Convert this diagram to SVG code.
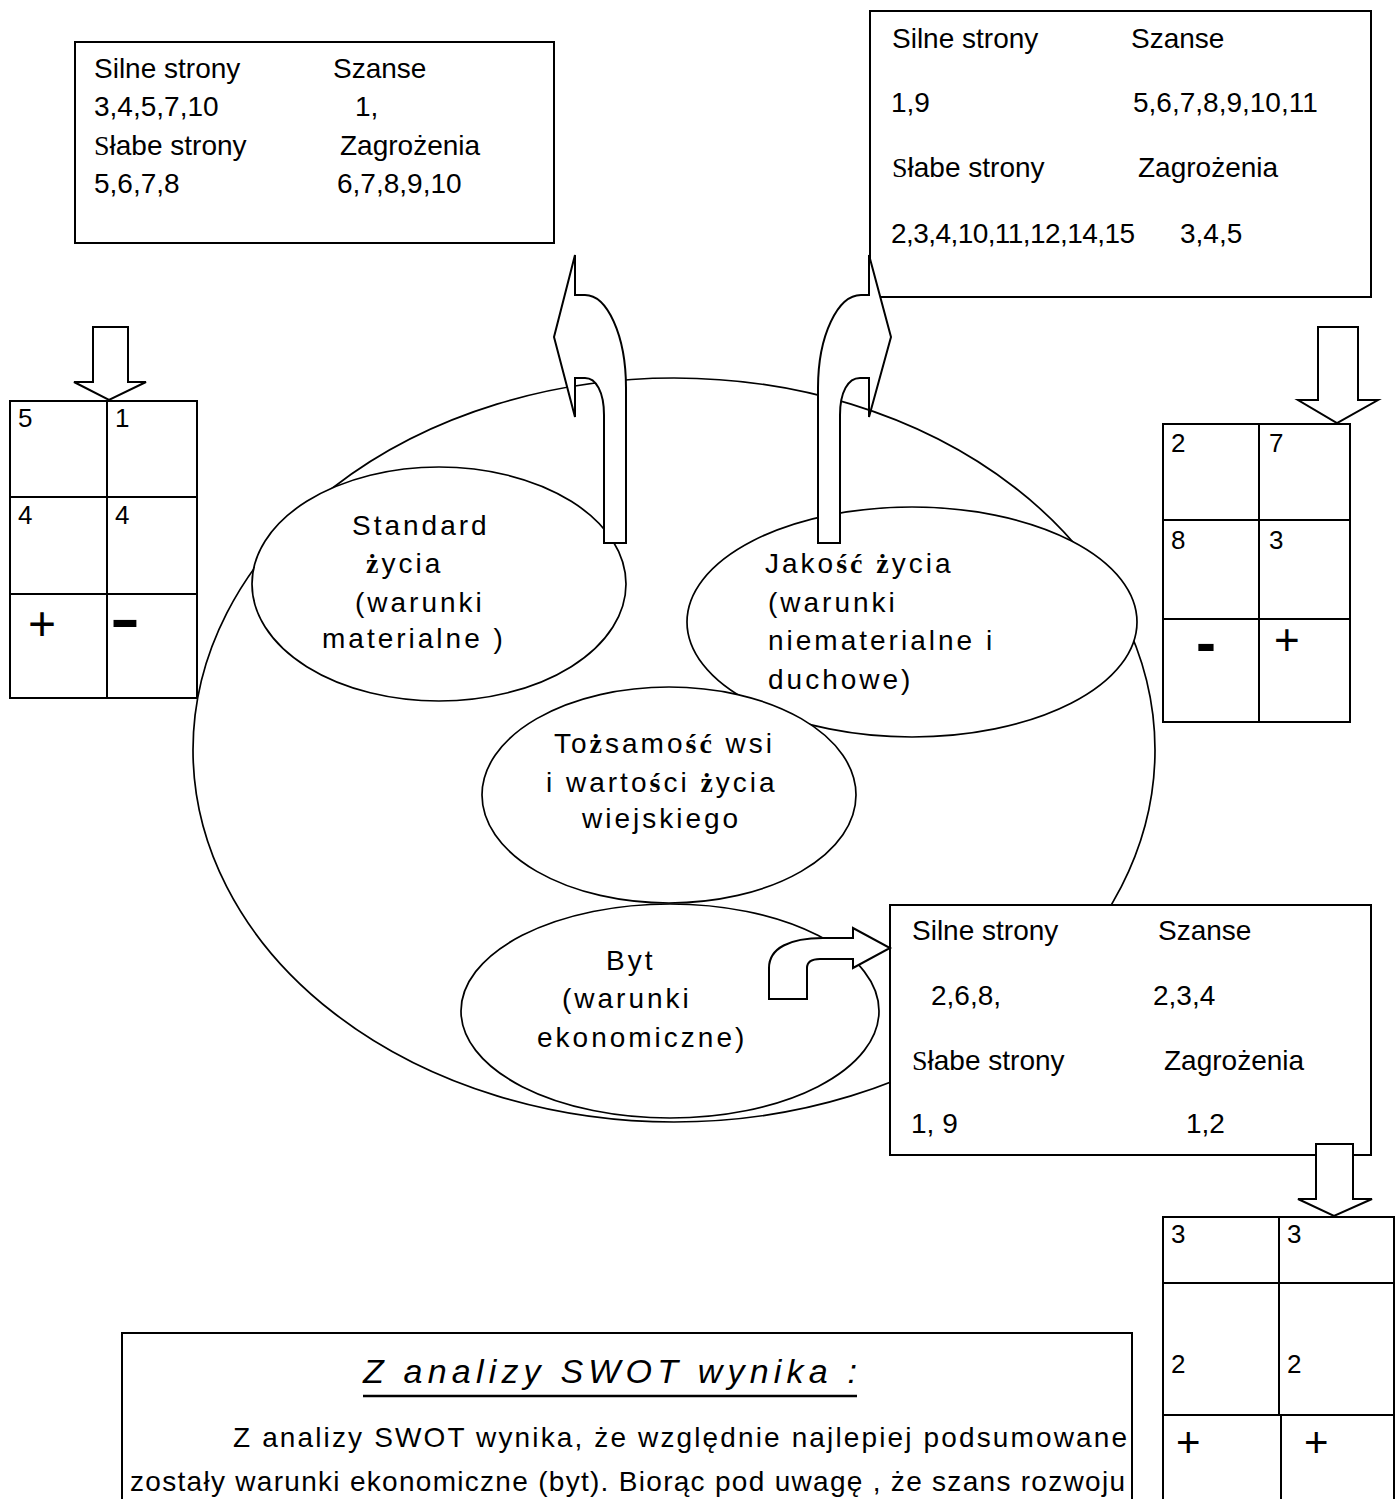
<svg xmlns="http://www.w3.org/2000/svg" width="1397" height="1499" viewBox="0 0 1397 1499">
<style>
text{font-family:"Liberation Sans",Arial,sans-serif;font-size:28px;fill:#000}
.box{fill:#fff;stroke:#000;stroke-width:2}
.ell{fill:#fff;stroke:#000;stroke-width:1.7}
.arr{fill:#fff;stroke:#000;stroke-width:2;stroke-linejoin:miter}
.grid{fill:#fff;stroke:#000;stroke-width:2}
.ln{stroke:#000;stroke-width:2}
.et{letter-spacing:3px}
.b{font-family:"Liberation Serif",serif;font-weight:bold}
.s{font-family:"Liberation Serif",serif}
.num{font-size:26px}
.mi{font-weight:bold;font-size:60px}
.p50{font-size:48px}
.p46{font-size:44px}
.p44{font-size:42px}
.title{font-size:34px;font-style:italic}
</style>
<rect width="1397" height="1499" fill="#fff"/>

<g id="outer-ellipse">
<ellipse class="ell" cx="674" cy="750" rx="481" ry="372"/>
</g>

<g id="node-standard">
<ellipse class="ell" cx="439" cy="584" rx="187" ry="117"/>
<text class="et" x="352" y="535">Standard</text>
<text class="et" x="366" y="573"><tspan class="b">ż</tspan>ycia</text>
<text class="et" x="355" y="612">(warunki</text>
<text class="et" x="322" y="648">materialne )</text>
</g>

<g id="node-jakosc">
<ellipse class="ell" cx="912" cy="622" rx="225" ry="115"/>
<text class="et" x="765" y="573">Jako<tspan class="b">ść</tspan> <tspan class="b">ż</tspan>ycia</text>
<text class="et" x="768" y="612">(warunki</text>
<text class="et" x="768" y="650">niematerialne i</text>
<text class="et" x="768" y="689">duchowe)</text>
</g>

<g id="node-tozsamosc">
<ellipse class="ell" cx="669" cy="795" rx="187" ry="108"/>
<text class="et" x="554" y="753">To<tspan class="b">ż</tspan>samo<tspan class="b">ść</tspan> wsi</text>
<text class="et" x="546" y="792">i warto<tspan class="b">ś</tspan>ci <tspan class="b">ż</tspan>ycia</text>
<text class="et" x="582" y="828">wiejskiego</text>
</g>

<g id="node-byt">
<ellipse class="ell" cx="670" cy="1011" rx="209" ry="107"/>
<text class="et" x="606" y="970">Byt</text>
<text class="et" x="562" y="1008">(warunki</text>
<text class="et" x="537" y="1047">ekonomiczne)</text>
</g>

<g id="swot-standard">
<rect class="box" x="75" y="42" width="479" height="201"/>
<text x="94" y="78">Silne strony</text>
<text x="333" y="78">Szanse</text>
<text x="94" y="116">3,4,5,7,10</text>
<text x="355" y="116">1,</text>
<text x="94" y="155"><tspan class="s">S</tspan>łabe strony</text>
<text x="340" y="155">Zagrożenia</text>
<text x="94" y="193">5,6,7,8</text>
<text x="337" y="193">6,7,8,9,10</text>
</g>

<g id="swot-jakosc">
<rect class="box" x="870" y="11" width="501" height="286"/>
<text x="892" y="48">Silne strony</text>
<text x="1131" y="48">Szanse</text>
<text x="891" y="112">1,9</text>
<text x="1133" y="112">5,6,7,8,9,10,11</text>
<text x="892" y="177"><tspan class="s">S</tspan>łabe strony</text>
<text x="1138" y="177">Zagrożenia</text>
<text x="891" y="243" textLength="244">2,3,4,10,11,12,14,15</text>
<text x="1180" y="243">3,4,5</text>
</g>

<g id="swot-byt">
<rect class="box" x="890" y="905" width="481" height="250"/>
<text x="912" y="940">Silne strony</text>
<text x="1158" y="940">Szanse</text>
<text x="931" y="1005">2,6,8,</text>
<text x="1153" y="1005">2,3,4</text>
<text x="912" y="1070"><tspan class="s">S</tspan>łabe strony</text>
<text x="1164" y="1070">Zagrożenia</text>
<text x="911" y="1133">1, 9</text>
<text x="1186" y="1133">1,2</text>
</g>

<g id="grid-standard">
<rect class="grid" x="10" y="401" width="187" height="297"/>
<line class="ln" x1="107" y1="401" x2="107" y2="698"/>
<line class="ln" x1="10" y1="497" x2="197" y2="497"/>
<line class="ln" x1="10" y1="594" x2="197" y2="594"/>
<text class="num" x="18" y="427">5</text>
<text class="num" x="115" y="427">1</text>
<text class="num" x="18" y="524">4</text>
<text class="num" x="115" y="524">4</text>
<text class="p50" x="28" y="640">+</text>
<text class="mi" x="110" y="639" textLength="30" lengthAdjust="spacingAndGlyphs">-</text>
</g>

<g id="grid-jakosc">
<rect class="grid" x="1163" y="424" width="187" height="298"/>
<line class="ln" x1="1259" y1="424" x2="1259" y2="722"/>
<line class="ln" x1="1163" y1="520" x2="1350" y2="520"/>
<line class="ln" x1="1163" y1="619" x2="1350" y2="619"/>
<text class="num" x="1171" y="452">2</text>
<text class="num" x="1269" y="452">7</text>
<text class="num" x="1171" y="549">8</text>
<text class="num" x="1269" y="549">3</text>
<text class="mi" x="1196" y="663">-</text>
<text class="p46" x="1274" y="655">+</text>
</g>

<g id="grid-byt">
<rect class="grid" x="1163" y="1217" width="231" height="320"/>
<line class="ln" x1="1279" y1="1217" x2="1279" y2="1415"/>
<line class="ln" x1="1281" y1="1415" x2="1281" y2="1537"/>
<line class="ln" x1="1163" y1="1283" x2="1394" y2="1283"/>
<line class="ln" x1="1163" y1="1415" x2="1394" y2="1415"/>
<text class="num" x="1171" y="1243">3</text>
<text class="num" x="1287" y="1243">3</text>
<text class="num" x="1171" y="1373">2</text>
<text class="num" x="1287" y="1373">2</text>
<text class="p44" x="1176" y="1457">+</text>
<text class="p44" x="1304" y="1457">+</text>
</g>

<g id="summary">
<rect class="box" x="122" y="1333" width="1010" height="220"/>
<text class="title" x="363" y="1383" textLength="494" lengthAdjust="spacing">Z analizy SWOT wynika :</text>
<line x1="363" y1="1396" x2="857" y2="1396" stroke="#000" stroke-width="2.5"/>
<text x="233" y="1447" textLength="894" lengthAdjust="spacing">Z analizy SWOT wynika, że względnie najlepiej podsumowane</text>
<text x="130" y="1491" textLength="995" lengthAdjust="spacing">zostały warunki ekonomiczne (byt). Biorąc pod uwagę , że szans rozwoju</text>
</g>

<g id="connectors">
<path class="arr" d="M626,543 L626,388 C626,335 607,295 585,295 L575,295 L575,255 L554,337 L575,417 L575,378 L585,378 C596,378 604,392 604,415 L604,543 Z"/>
<path class="arr" d="M818,543 L818,388 C818,335 838,295 861,295 L869,295 L869,255 L891,337 L869,417 L869,378 L860,378 C848,378 840,392 840,415 L840,543 Z"/>
<path class="arr" d="M769,999 L769,968 C769,948 790,938 823,938 L853,938 L853,928 L890,948 L853,968 L853,959 L820,959 C812,959 807,962 807,968 L807,999 Z"/>
<path class="arr" d="M93,327 L128,327 L128,382 L146,382 L109,400 L74,382 L93,382 Z"/>
<path class="arr" d="M1318,327 L1358,327 L1358,400 L1378,400 L1337,423 L1298,400 L1318,400 Z"/>
<path class="arr" d="M1316,1144 L1353,1144 L1353,1199 L1372,1199 L1334,1216 L1298,1199 L1316,1199 Z"/>
</g>
</svg>
